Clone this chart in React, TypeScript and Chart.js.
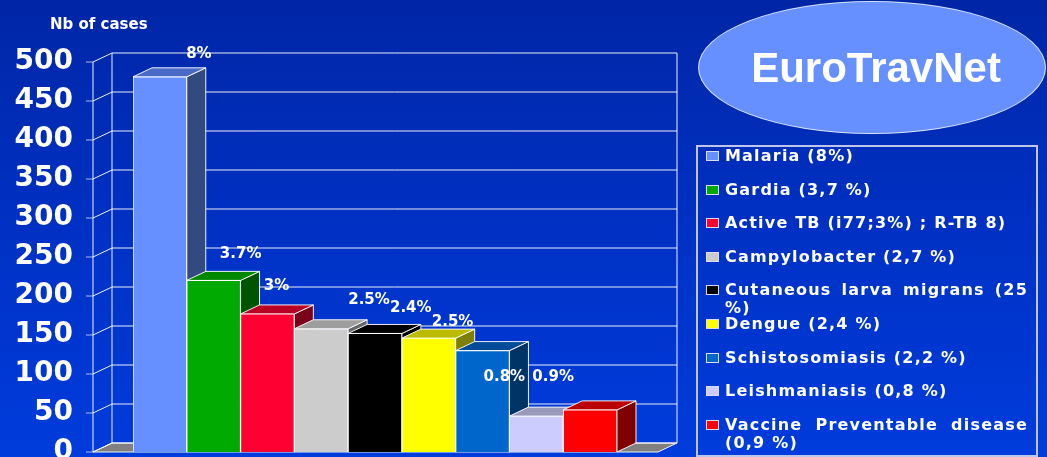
import React, { useEffect, useRef } from 'react';
import { Chart, registerables } from 'chart.js';

Chart.register(...registerables);

// ---- data ----
const categories = [
  'Malaria (8%)',
  'Gardia (3,7 %)',
  'Active TB (i77;3%) ; R-TB 8)',
  'Campylobacter (2,7 %)',
  'Cutaneous larva migrans (25 %)',
  'Dengue (2,4 %)',
  'Schistosomiasis (2,2 %)',
  'Leishmaniasis (0,8 %)',
  'Vaccine Preventable disease (0,9 %)',
];
const cases = [481, 220, 177, 158, 152, 146, 130, 46, 54];
const barLabels = ['8%', '3.7%', '3%', '', '2.5%', '2.4%', '2.5%', '0.8%', '0.9%'];
const yMin = 0;
const yMax = 500;
const yStep = 50;
const axisTitle = 'Nb of cases';
const badgeText = 'EuroTravNet';

// ---- styles ----
const frontColors = ['#6690FF', '#00AA00', '#FF0033', '#CCCCCC', '#000000', '#FFFF00', '#0066CC', '#CCCCFF', '#FF0000'];
const topColors = ['#4A6AC8', '#008800', '#B80022', '#9E9E9E', '#000000', '#BBBB00', '#004C99', '#9999BB', '#BB0000'];
const sideColors = ['#334A80', '#005500', '#7A0017', '#666666', '#000000', '#808000', '#003366', '#666699', '#800000'];
// label nudges relative to bar centre / top (style only)
const labelNudge: [number, number][] = [
  [39, -23], [27, -26], [9, -28], [0, 0], [-6, -33], [-18, -30], [-30, -28], [-32, -39], [-37, -33],
];

const DX = 19;
const DY = 9;
const PADL = 40;
const PADR = 41;
const LINE = 'rgba(255,255,255,0.92)';

const threeD = {
  id: 'threeD',
  beforeDatasetsDraw(chart: any) {
    const ctx = chart.ctx as CanvasRenderingContext2D;
    const a = chart.chartArea;
    const ys = chart.scales.y;
    const fl = a.left - PADL;
    const fr = a.right + PADR;
    const y0 = ys.getPixelForValue(yMin);
    const yT = ys.getPixelForValue(yMax);
    const line = (x1: number, y1: number, x2: number, y2: number) => {
      ctx.beginPath();
      ctx.moveTo(x1, y1);
      ctx.lineTo(x2, y2);
      ctx.stroke();
    };
    ctx.save();
    ctx.lineWidth = 1;
    ctx.strokeStyle = LINE;
    // floor
    ctx.fillStyle = '#808080';
    ctx.beginPath();
    ctx.moveTo(fl, y0);
    ctx.lineTo(fl + DX, y0 - DY);
    ctx.lineTo(fr + DX, y0 - DY);
    ctx.lineTo(fr, y0);
    ctx.closePath();
    ctx.fill();
    ctx.stroke();
    // grid
    ys.ticks.forEach((t: any) => {
      const y = ys.getPixelForValue(t.value);
      ctx.strokeStyle = LINE;
      line(fl + DX, y - DY, fr + DX, y - DY);
      line(fl, y, fl + DX, y - DY);
      ctx.strokeStyle = 'rgba(190,205,245,0.9)';
      line(fl - 7, y, fl, y);
    });
    ctx.strokeStyle = LINE;
    line(fl, yT, fl, y0);
    line(fl + DX, yT - DY, fl + DX, y0 - DY);
    line(fr + DX, yT - DY, fr + DX, y0 - DY);
    // bars: top and side faces
    const meta = chart.getDatasetMeta(0);
    meta.data.forEach((bar: any, i: number) => {
      const l = bar.x - bar.width / 2;
      const r = bar.x + bar.width / 2;
      const t = bar.y;
      const b = bar.base;
      ctx.strokeStyle = LINE;
      // side
      ctx.fillStyle = sideColors[i];
      ctx.beginPath();
      ctx.moveTo(r, t);
      ctx.lineTo(r + DX, t - DY);
      ctx.lineTo(r + DX, b - DY);
      ctx.lineTo(r, b);
      ctx.closePath();
      ctx.fill();
      ctx.stroke();
      // top
      ctx.fillStyle = topColors[i];
      ctx.beginPath();
      ctx.moveTo(l, t);
      ctx.lineTo(l + DX, t - DY);
      ctx.lineTo(r + DX, t - DY);
      ctx.lineTo(r, t);
      ctx.closePath();
      ctx.fill();
      ctx.stroke();
    });
    ctx.restore();
  },
  afterDatasetsDraw(chart: any) {
    const ctx = chart.ctx as CanvasRenderingContext2D;
    const a = chart.chartArea;
    const meta = chart.getDatasetMeta(0);
    ctx.save();
    ctx.fillStyle = '#FFFFFF';
    ctx.font = 'bold 15px "DejaVu Sans"';
    ctx.textAlign = 'center';
    ctx.textBaseline = 'middle';
    meta.data.forEach((bar: any, i: number) => {
      if (!barLabels[i]) return;
      ctx.fillText(barLabels[i], bar.x + labelNudge[i][0], bar.y + labelNudge[i][1]);
    });
    ctx.textAlign = 'left';
    ctx.textBaseline = 'alphabetic';
    ctx.fillText(axisTitle, a.left - 83, 29);
    ctx.restore();
  },
};

export default function App() {
  const ref = useRef<HTMLCanvasElement | null>(null);
  useEffect(() => {
    if (!ref.current) return;
    const chart = new Chart(ref.current, {
      type: 'bar',
      data: {
        labels: categories,
        datasets: [
          {
            data: cases,
            backgroundColor: frontColors,
            borderColor: '#FFFFFF',
            borderWidth: 1,
            categoryPercentage: 1,
            barPercentage: 1,
          },
        ],
      },
      options: {
        responsive: false,
        animation: false,
        devicePixelRatio: 1,
        layout: { padding: { left: 0, right: 430, top: 62, bottom: 5 } },
        plugins: {
          legend: { display: false },
          tooltip: { enabled: false },
          title: { display: false },
        },
        scales: {
          x: { display: false },
          y: {
            min: yMin,
            max: yMax,
            ticks: {
              stepSize: yStep,
              color: '#FFFFFF',
              font: { family: 'DejaVu Sans', weight: 'bold', size: 28 },
              padding: 60,
            },
            grid: { display: false, drawTicks: false },
            border: { display: false },
            afterFit: (s: any) => {
              s.width = 133;
              s.paddingTop = 0;
              s.paddingBottom = 0;
            },
          },
        },
      } as any,
      plugins: [threeD],
    });
    return () => chart.destroy();
  }, []);

  return (
    <div
      style={{
        position: 'fixed',
        left: 0,
        top: 0,
        width: 1047,
        height: 457,
        overflow: 'hidden',
        background: 'linear-gradient(to bottom, #0026A6 0%, #0031C4 50%, #003CDC 100%)',
      }}
    >
      <canvas ref={ref} width={1047} height={457} style={{ position: 'absolute', left: 0, top: 0 }} />
      <div
        style={{
          position: 'absolute',
          left: 698,
          top: 1,
          width: 348,
          height: 133,
          borderRadius: '50%',
          background: '#6690FF',
          border: '1px solid rgba(255,255,255,0.75)',
          boxSizing: 'border-box',
          display: 'flex',
          alignItems: 'center',
          justifyContent: 'center',
          color: '#FFFFFF',
          fontFamily: '"Liberation Sans", Arial, sans-serif',
          fontWeight: 'bold',
          fontSize: 42,
          paddingLeft: 8,
        }}
      >
        {badgeText}
      </div>
      <div
        style={{
          position: 'absolute',
          left: 696,
          top: 145,
          width: 342,
          height: 312,
          border: '2px solid #BCC6E8',
          boxSizing: 'border-box',
        }}
      >
        {categories.map((c, i) => (
          <div key={c} style={{ position: 'relative', height: 33.6 }}>
            <div
              style={{
                position: 'absolute',
                left: 8,
                top: 4,
                width: 11,
                height: 8,
                background: frontColors[i],
                border: '1px solid #D8DDF0',
              }}
            />
            <div
              style={{
                position: 'absolute',
                left: 27,
                top: 0,
                width: 303,
                color: '#FFFFFF',
                fontFamily: '"DejaVu Sans", sans-serif',
                fontWeight: 'bold',
                fontSize: 16,
                lineHeight: '18px',
                letterSpacing: '1.2px',
                textAlign: 'justify',
                whiteSpace: 'normal',
              }}
            >
              {c}
            </div>
          </div>
        ))}
      </div>
    </div>
  );
}
